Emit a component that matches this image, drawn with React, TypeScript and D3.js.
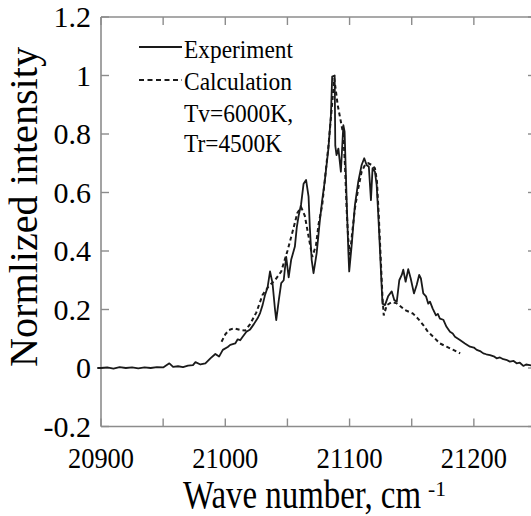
import React from "react";
import * as d3 from "d3";

const expWave = [20897, 20900, 20905, 20910, 20915, 20920, 20925, 20930, 20935, 20940, 20945, 20950, 20955, 20958, 20962, 20966, 20970, 20974, 20976, 20980, 20984, 20988, 20992, 20995, 20998, 21002, 21004, 21008, 21010, 21012, 21014, 21017, 21020, 21023, 21026, 21028, 21030, 21032, 21034, 21036, 21038, 21040, 21041, 21043, 21045, 21047, 21049, 21051, 21053, 21056, 21057.5, 21059, 21061, 21063, 21065, 21067, 21068, 21069.5, 21071, 21073.5, 21076, 21078, 21080, 21083, 21085, 21086, 21088, 21088.5, 21089.5, 21091, 21093, 21095, 21096, 21097.6, 21099, 21099.7, 21101.7, 21104.3, 21107, 21109.7, 21111.8, 21113.7, 21115.5, 21117.2, 21118.5, 21120.4, 21121.8, 21123.1, 21124.5, 21125.8, 21126.5, 21128.5, 21131, 21133.9, 21136, 21138, 21140, 21142, 21143.2, 21145.1, 21147.2, 21149.2, 21151.8, 21154, 21156, 21157.4, 21159.3, 21161.5, 21163.3, 21164.7, 21166.8, 21169.5, 21171, 21172.7, 21175.4, 21178, 21180.8, 21183, 21184.8, 21188.8, 21192.8, 21196.9, 21200, 21202.3, 21205, 21207.6, 21210, 21213, 21216, 21218.3, 21221, 21223.7, 21226, 21229, 21232, 21234.4, 21237, 21239.8, 21242, 21245, 21250];
const expIntensity = [0.0, 0.0, 0.002, -0.002, 0.003, 0.0, 0.002, -0.001, 0.002, 0.0, 0.003, 0.002, 0.016, 0.004, 0.006, 0.003, 0.008, 0.01, 0.02, 0.012, 0.016, 0.033, 0.048, 0.039, 0.062, 0.072, 0.079, 0.084, 0.098, 0.095, 0.107, 0.124, 0.132, 0.15, 0.17, 0.188, 0.215, 0.25, 0.275, 0.33, 0.29, 0.2, 0.164, 0.23, 0.29, 0.3, 0.38, 0.31, 0.37, 0.415, 0.48, 0.52, 0.56, 0.63, 0.643, 0.586, 0.483, 0.37, 0.324, 0.392, 0.5, 0.575, 0.637, 0.751, 0.865, 0.996, 1.0, 0.76, 0.728, 0.75, 0.671, 0.83, 0.808, 0.58, 0.4, 0.33, 0.42, 0.557, 0.637, 0.694, 0.717, 0.694, 0.688, 0.574, 0.683, 0.671, 0.626, 0.523, 0.4, 0.28, 0.22, 0.215, 0.245, 0.262, 0.232, 0.227, 0.3, 0.318, 0.336, 0.295, 0.338, 0.306, 0.255, 0.284, 0.318, 0.306, 0.255, 0.245, 0.22, 0.227, 0.204, 0.18, 0.185, 0.169, 0.165, 0.141, 0.124, 0.118, 0.107, 0.096, 0.084, 0.073, 0.07, 0.062, 0.058, 0.05, 0.047, 0.044, 0.04, 0.033, 0.036, 0.03, 0.028, 0.022, 0.024, 0.016, 0.018, 0.007, 0.012, 0.01, 0.005];

const calcWave = [20997, 21000, 21003, 21007, 21012, 21016, 21020, 21025, 21030, 21035, 21040, 21045, 21050, 21055, 21058, 21061, 21064, 21067, 21070, 21073, 21075, 21078, 21080, 21083, 21085.5, 21087.7, 21090.4, 21093, 21095, 21096.3, 21097.6, 21098.9, 21100.3, 21102.2, 21104.3, 21107, 21109.7, 21112.4, 21115, 21117.8, 21120.4, 21122, 21123.5, 21125, 21126.5, 21127.5, 21130, 21134, 21138, 21144.6, 21151, 21155, 21159.3, 21163, 21167.3, 21172.7, 21178, 21183.5, 21189];
const calcIntensity = [0.09, 0.115, 0.13, 0.136, 0.13, 0.128, 0.15, 0.19, 0.25, 0.28, 0.3, 0.33, 0.4, 0.48, 0.53, 0.55, 0.52, 0.45, 0.38, 0.42, 0.49, 0.557, 0.64, 0.76, 0.88, 0.99, 0.9, 0.842, 0.797, 0.694, 0.546, 0.443, 0.386, 0.466, 0.546, 0.614, 0.671, 0.694, 0.7, 0.694, 0.683, 0.64, 0.52, 0.38, 0.24, 0.18, 0.215, 0.225, 0.221, 0.198, 0.186, 0.169, 0.147, 0.124, 0.107, 0.084, 0.073, 0.062, 0.05];

const xTickValues = [20900, 21000, 21100, 21200];
const xTickLabels = ["20900", "21000", "21100", "21200"];
const xMinorValues = [20900, 20950, 21000, 21050, 21100, 21150, 21200, 21250];
const yTickValues = [-0.2, 0, 0.2, 0.4, 0.6, 0.8, 1, 1.2];
const yTickLabels = ["-0.2", "0", "0.2", "0.4", "0.6", "0.8", "1", "1.2"];
const legendLabels = ["Experiment", "Calculation"];
const legendNote = ["Tv=6000K,", "Tr=4500K"];

const FONT = "Liberation Serif";

export default function App() {
  const left = 101, right = 536, top = 17, bottom = 426.5;
  const x = d3.scaleLinear().domain([20900, 21250]).range([left, right]);
  const y = d3.scaleLinear().domain([-0.2, 1.2]).range([bottom, top]);
  const expPath = d3.line<number>()
    .x((d, i) => x(expWave[i]))
    .y((d) => y(d))(expIntensity) || "";
  const calcPath = d3.line<number>()
    .x((d, i) => x(calcWave[i]))
    .y((d) => y(d))(calcIntensity) || "";
  const frame = "#8c8c8c";
  const tickLen = 8;
  return (
    <svg width={531} height={516} style={{ position: "absolute", left: 0, top: 0, background: "#fff" }}>
      <rect x={0} y={0} width={531} height={516} fill="#fff" />
      <line x1={left} x2={right} y1={top} y2={top} stroke={frame} strokeWidth={1.6} />
      <line x1={left} x2={right} y1={bottom} y2={bottom} stroke={frame} strokeWidth={1.6} />
      <line x1={left} x2={left} y1={top} y2={bottom} stroke={frame} strokeWidth={1.6} />
      <line x1={right} x2={right} y1={top} y2={bottom} stroke={frame} strokeWidth={1.6} />
      {xMinorValues.map((v) => (
        <g key={"xt" + v}>
          <line x1={x(v)} x2={x(v)} y1={bottom} y2={bottom - tickLen} stroke={frame} strokeWidth={1.4} />
          <line x1={x(v)} x2={x(v)} y1={top} y2={top + tickLen} stroke={frame} strokeWidth={1.4} />
        </g>
      ))}
      {yTickValues.map((v) => (
        <g key={"yt" + v}>
          <line x1={left} x2={left + tickLen} y1={y(v)} y2={y(v)} stroke={frame} strokeWidth={1.4} />
          <line x1={right} x2={right - tickLen} y1={y(v)} y2={y(v)} stroke={frame} strokeWidth={1.4} />
        </g>
      ))}
      {xTickValues.map((v, i) => (
        <text key={"xl" + v} x={x(v) - 33} y={468} fontFamily={FONT} fontSize={30}
          textLength={66} lengthAdjust="spacingAndGlyphs">{xTickLabels[i]}</text>
      ))}
      {yTickValues.map((v, i) => (
        <text key={"yl" + v} x={91} y={y(v) + 10} textAnchor="end" fontFamily={FONT} fontSize={30}>{yTickLabels[i]}</text>
      ))}
      <text x={183} y={508} fontFamily={FONT} fontSize={40} textLength={238} lengthAdjust="spacingAndGlyphs">Wave number, cm</text>
      <text x={428} y={496} fontFamily={FONT} fontSize={20} textLength={18} lengthAdjust="spacingAndGlyphs">-1</text>
      <text transform="translate(37,367) rotate(-90)" fontFamily={FONT} fontSize={40}
        textLength={320} lengthAdjust="spacingAndGlyphs">Normlized intensity</text>
      <path d={calcPath} fill="none" stroke="#1a1a1a" strokeWidth={2} strokeDasharray="4,3" />
      <path d={expPath} fill="none" stroke="#1a1a1a" strokeWidth={1.8} strokeLinejoin="round" />
      <line x1={139} x2={182} y1={47} y2={47} stroke="#1a1a1a" strokeWidth={1.8} />
      <line x1={139} x2={182} y1={80} y2={80} stroke="#1a1a1a" strokeWidth={1.8} strokeDasharray="5,3.5" />
      {legendLabels.map((t, i) => (
        <text key={t} x={184} y={58 + i * 32} fontFamily={FONT} fontSize={26}
          textLength={i === 0 ? 109 : 108} lengthAdjust="spacingAndGlyphs">{t}</text>
      ))}
      {legendNote.map((t, i) => (
        <text key={t} x={184} y={122 + i * 30} fontFamily={FONT} fontSize={26}
          textLength={i === 0 ? 109 : 98} lengthAdjust="spacingAndGlyphs">{t}</text>
      ))}
    </svg>
  );
}
